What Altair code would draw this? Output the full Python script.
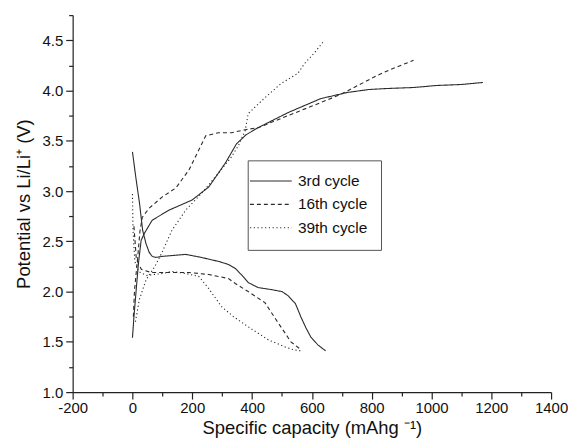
import altair as alt
import pandas as pd

# ---- data ----
cycles = ["3rd cycle", "16th cycle", "39th cycle"]

c3_dis_x = [0, 12, 24, 34, 45, 56, 66, 78, 100, 140, 178, 230, 288, 321, 344, 370, 387, 420, 464, 500, 520, 545, 563, 580, 596, 620, 646]
c3_dis_y = [3.39, 3.12, 2.87, 2.61, 2.48, 2.39, 2.35, 2.34, 2.35, 2.36, 2.37, 2.34, 2.30, 2.27, 2.23, 2.15, 2.09, 2.04, 2.02, 2.00, 1.96, 1.88, 1.75, 1.64, 1.55, 1.47, 1.41]
c3_chg_x = [0, 5, 12, 20, 29, 40, 66, 122, 199, 255, 311, 348, 380, 420, 520, 630, 718, 790, 851, 940, 1017, 1100, 1172]
c3_chg_y = [1.54, 1.75, 2.00, 2.28, 2.51, 2.58, 2.71, 2.81, 2.91, 3.04, 3.28, 3.47, 3.56, 3.63, 3.78, 3.92, 3.98, 4.01, 4.02, 4.03, 4.05, 4.06, 4.08]

c16_dis_x = [5, 13, 30, 63, 122, 189, 255, 321, 344, 387, 443, 487, 530, 560]
c16_dis_y = [2.65, 2.32, 2.22, 2.19, 2.19, 2.19, 2.17, 2.13, 2.08, 2.00, 1.89, 1.69, 1.50, 1.43]
c16_chg_x = [3, 7, 17, 25, 33, 56, 99, 145, 189, 222, 245, 288, 331, 377, 420, 520, 630, 702, 760, 818, 880, 940]
c16_chg_y = [1.75, 2.02, 2.32, 2.60, 2.74, 2.83, 2.94, 3.03, 3.21, 3.41, 3.55, 3.58, 3.58, 3.61, 3.63, 3.75, 3.88, 3.97, 4.06, 4.15, 4.23, 4.30]

c39_dis_x = [0, 2, 8, 20, 46, 100, 132, 178, 222, 255, 298, 338, 387, 454, 510, 540, 563]
c39_dis_y = [2.97, 2.60, 2.30, 2.20, 2.16, 2.18, 2.20, 2.18, 2.15, 2.03, 1.85, 1.75, 1.65, 1.52, 1.45, 1.42, 1.41]
c39_chg_x = [10, 23, 46, 75, 99, 132, 178, 232, 288, 331, 354, 377, 387, 440, 497, 553, 576, 610, 642]
c39_chg_y = [1.70, 1.92, 2.12, 2.25, 2.39, 2.61, 2.81, 2.98, 3.18, 3.34, 3.45, 3.60, 3.77, 3.92, 4.07, 4.17, 4.27, 4.38, 4.50]

x_ticks = list(range(-200, 1401, 100))
y_ticks = [1.0 + 0.25 * i for i in range(16)]

segments = [
    ("3rd cycle", "3d", c3_dis_x, c3_dis_y),
    ("3rd cycle", "3c", c3_chg_x, c3_chg_y),
    ("16th cycle", "16d", c16_dis_x, c16_dis_y),
    ("16th cycle", "16c", c16_chg_x, c16_chg_y),
    ("39th cycle", "39d", c39_dis_x, c39_dis_y),
    ("39th cycle", "39c", c39_chg_x, c39_chg_y),
]
rows = []
for cyc, seg, xs, ys in segments:
    for i, (xv, yv) in enumerate(zip(xs, ys)):
        rows.append({"x": xv, "y": yv, "cycle": cyc, "segment": seg, "order": i})
df = pd.DataFrame(rows)

FONT = "Liberation Sans"
INK = "#2b2b2b"

chart = alt.Chart(df).mark_line(color=INK, strokeWidth=1.1).encode(
    x=alt.X(
        "x:Q",
        scale=alt.Scale(domain=[-200, 1400], nice=False, zero=False),
        axis=alt.Axis(
            values=x_ticks,
            labelExpr="datum.value % 200 === 0 ? ('' + datum.value) : ''",
            title="Specific capacity (mAhg \u207b\u00b9)",
            grid=False,
            labelFlush=False,
            tickSize={"condition": {"test": "datum.value % 200 === 0", "value": 7}, "value": 4},
            labelPadding=2,
            titlePadding=3,
        ),
    ),
    y=alt.Y(
        "y:Q",
        scale=alt.Scale(domain=[1.0, 4.75], nice=False, zero=False),
        axis=alt.Axis(
            values=y_ticks,
            format=".1f",
            labelExpr="(datum.value * 2) % 1 === 0 ? datum.label : ''",
            title="Potential vs Li/Li\u207a (V)",
            grid=False,
            labelFlush=False,
            tickSize={"condition": {"test": "(datum.value * 2) % 1 === 0", "value": 7}, "value": 4},
            labelPadding=3,
            titlePadding=9,
        ),
    ),
    strokeDash=alt.StrokeDash(
        "cycle:N",
        scale=alt.Scale(domain=cycles, range=[[1, 0], [4, 3], [1.2, 2.6]]),
        legend=alt.Legend(
            title=None,
            orient="none",
            legendX=176,
            legendY=146,
            symbolType="M-3.82,0L3.82,0",
            symbolSize=121,
            symbolStrokeWidth=1.1,
            symbolStrokeColor=INK,
            symbolOffset=2.5,
            labelFontSize=15.5,
            labelFont=FONT,
            labelColor="#111",
            labelOffset=19.5,
            rowPadding=6.5,
            padding=13,
            strokeColor="#555",
            fillColor="white",
        ),
    ),
    detail="segment:N",
    order="order:Q",
).properties(
    width=481,
    height=379,
    autosize=alt.AutoSizeParams(type="none"),
    padding={"left": 65, "top": 6, "right": 17, "bottom": 50},
).configure_view(stroke=None).configure_axis(
    labelFont=FONT,
    titleFont=FONT,
    labelFontSize=15,
    titleFontSize=18.5,
    titleFontWeight="normal",
    labelColor="#111",
    titleColor="#111",
    domainColor="#222",
    tickColor="#222",
    domainWidth=1.2,
    tickWidth=1.2,
)

chart.save("out.html", embed_options={"renderer": "svg", "actions": False})
